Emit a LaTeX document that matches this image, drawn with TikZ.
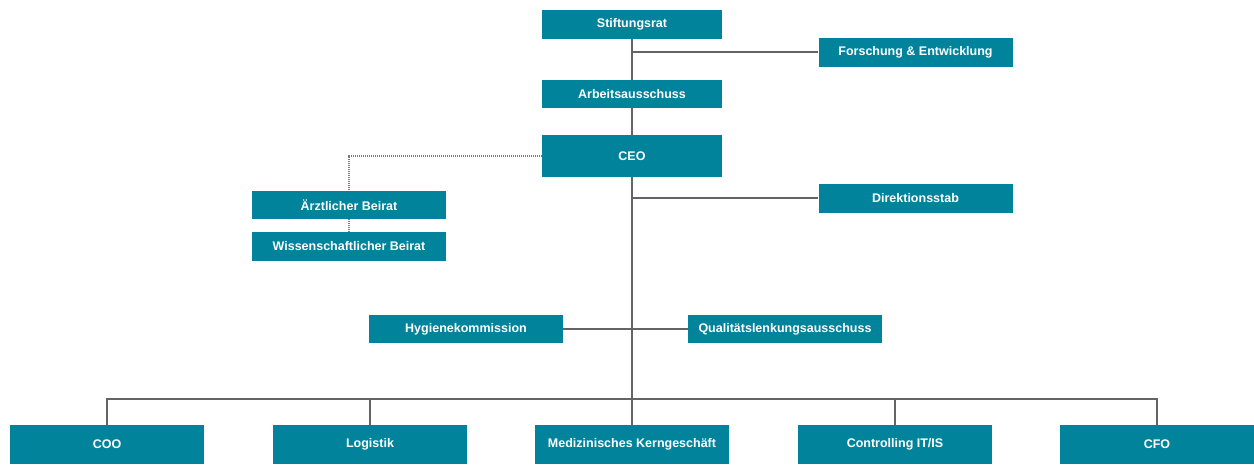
\documentclass[tikz,border=0pt]{standalone}
\usepackage{fontspec}
\setmainfont{Liberation Sans}
\definecolor{teal1}{RGB}{0,131,155}
\definecolor{line1}{RGB}{100,100,100}
\tikzset{
  box/.style={fill=teal1, draw=none, text=white, font=\bfseries\fontsize{12.5}{14}\selectfont, inner sep=0pt, minimum width=194pt, minimum height=29pt, anchor=center},
  conn/.style={draw=line1, line width=1.8pt},
  dotconn/.style={draw=line1!85, line width=1.4pt, dash pattern=on 1pt off 1pt}
}
\begin{document}
\begin{tikzpicture}[x=1pt,y=-1pt]
\useasboundingbox (0,0) rectangle (1254,464);
\node[box, minimum width=180pt] (stift) at (632,24.5) {Stiftungsrat};
\node[box] (fue) at (915.5,52) {Forschung \& Entwicklung};
\node[box, minimum width=180pt, minimum height=28pt] (arb) at (632,94) {Arbeitsausschuss};
\node[box, minimum width=180pt, minimum height=42pt] (ceo) at (632,156) {CEO};
\node[box] (direk) at (915.5,198) {Direktionsstab};
\node[box, minimum height=28pt] (arzt) at (349,205) {Ärztlicher Beirat};
\node[box] (wiss) at (349,246.5) {Wissenschaftlicher Beirat};
\node[box, minimum height=28pt] (hyg) at (466,329) {Hygienekommission};
\node[box, minimum height=28pt] (qual) at (785,329) {Qualitätslenkungsausschuss};
\node[box, minimum height=39pt] (coo) at (107,444.5) {COO};
\node[box, minimum height=39pt] (log) at (370,444.5) {Logistik};
\node[box, minimum height=39pt] (med) at (632,444.5) {Medizinisches Kerngeschäft};
\node[box, minimum height=39pt] (ctrl) at (895,444.5) {Controlling IT/IS};
\node[box, minimum height=39pt] (cfo) at (1157,444.5) {CFO};
\coordinate (bus) at (632,399);
\path[conn] (stift.south) -- (arb.north);
\path[conn] (arb.south) -- (ceo.north);
\path[conn] (ceo.south) -- (bus) -- (med.north);
\path[conn] (stift.south |- fue.west) -- (fue.west);
\path[conn] (ceo.south |- direk.west) -- (direk.west);
\path[conn] (hyg.east) -- (qual.west);
\path[conn] (coo.north) -- (coo.north |- bus) -- (cfo.north |- bus) -- (cfo.north);
\path[conn] (log.north |- bus) -- (log.north);
\path[conn] (ctrl.north |- bus) -- (ctrl.north);
\path[dotconn] (ceo.west) -- (arzt.north |- ceo.west) -- (arzt.north);
\path[dotconn] (arzt.south) -- (wiss.north);
\end{tikzpicture}
\end{document}
